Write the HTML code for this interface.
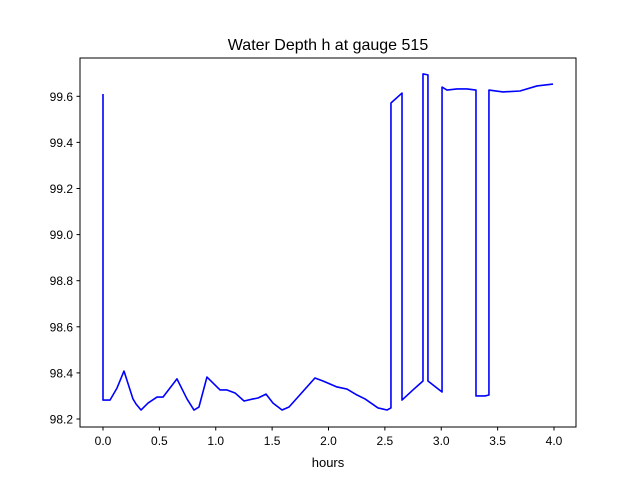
<!DOCTYPE html>
<html><head><meta charset="utf-8"><style>body{margin:0;background:#fff}svg text{font-family:"Liberation Sans","DejaVu Sans",sans-serif}</style></head>
<body>
<svg id="chart" width="640" height="480" xmlns="http://www.w3.org/2000/svg">
<rect width="640" height="480" fill="#fff"/>
<text x="328" y="50" text-anchor="middle" font-size="16">Water Depth h at gauge 515</text>
<g id="plot"></g>
<rect x="80" y="58" width="496" height="369" fill="none" stroke="#000" stroke-width="1"/>
<text x="328" y="467" text-anchor="middle" font-size="13">hours</text>
</svg>
<script>
const hours=[0,0,0.062,0.124,0.186,0.266,0.293,0.337,0.399,0.479,0.532,0.656,0.745,0.807,0.851,0.922,1.038,1.100,1.171,1.251,1.330,1.375,1.446,1.508,1.588,1.650,1.880,1.951,2.075,2.164,2.253,2.324,2.439,2.519,2.554,2.554,2.652,2.652,2.749,2.838,2.838,2.882,2.882,3.007,3.007,3.051,3.140,3.228,3.308,3.308,3.388,3.423,3.423,3.548,3.698,3.849,3.991];
const depth=[99.61,98.282,98.282,98.334,98.408,98.287,98.265,98.239,98.269,98.295,98.295,98.374,98.287,98.239,98.252,98.382,98.326,98.326,98.313,98.278,98.287,98.291,98.308,98.269,98.239,98.252,98.378,98.365,98.339,98.330,98.304,98.287,98.248,98.239,98.248,99.571,99.614,98.282,98.326,98.365,99.697,99.693,98.365,98.317,99.640,99.627,99.632,99.632,99.627,98.300,98.300,98.304,99.627,99.619,99.623,99.645,99.653];
const xTicks=[0,0.5,1.0,1.5,2.0,2.5,3.0,3.5,4.0];
const yTicks=[98.2,98.4,98.6,98.8,99.0,99.2,99.4,99.6];
const NS="http://www.w3.org/2000/svg";
const X=v=>103+(v-0)*112.75;
const Y=v=>419-(v-98.2)*230.5;
const g=document.getElementById('plot');
function mk(t,a){const e=document.createElementNS(NS,t);for(const k in a)e.setAttribute(k,a[k]);return e;}
xTicks.forEach(t=>{
  const l=mk('line',{x1:X(t),x2:X(t),y1:427,y2:430.5,stroke:'#000'});
  
  
  g.appendChild(l);
  const s=mk('text',{x:X(t),y:445,'text-anchor':'middle','font-size':12});
  
  
  s.textContent=t.toFixed(1);g.appendChild(s);
});
yTicks.forEach(t=>{
  const l=mk('line',{x1:76.5,x2:80,y1:Y(t),y2:Y(t),stroke:'#000'});
  
  
  g.appendChild(l);
  const s=mk('text',{x:73,y:Y(t)+4.5,'text-anchor':'end','font-size':12});
  
  
  s.textContent=t.toFixed(1);g.appendChild(s);
});
const p=mk('polyline',{points:hours.map((h,i)=>X(h)+','+Y(depth[i])).join(' '),fill:'none',stroke:'#0000ff','stroke-width':1.6,'stroke-linejoin':'round'});


g.appendChild(p);
</script>
</body></html>
